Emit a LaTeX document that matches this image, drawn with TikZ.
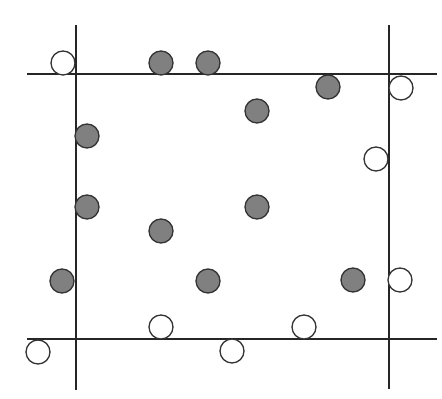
\documentclass[tikz,border=0pt]{standalone}
\tikzset{pt/.style={circle,draw=black!80,line width=1.1pt,minimum size=.72cm,inner sep=0pt},
	full/.style={pt,fill=black!50},
	empty/.style={pt,fill=white}}
\usepackage{tikz}

\begin{document}
\begin{tikzpicture}[x=.03cm,y=-.03cm]
		\useasboundingbox (0,0) rectangle (442,399);
		
		\coordinate (tl) at (27,74);
		\coordinate (tr) at (437,74);
		\coordinate (bl) at (27,339);
		\coordinate (br) at (437,339);
		\coordinate (lt) at (76,25);
		\coordinate (lb) at (76,390);
		\coordinate (rt) at (389,25);
		\coordinate (rb) at (389,389);
		\draw[black!85,line width=1.1pt]
		(tl)--(tr)
		(bl)--(br)
		(lt)--(lb)
		(rt)--(rb);
		
		\path
		(161,63)  node[full](f1){}
		(208,63)  node[full](f2){}
		(328,87)  node[full](f3){}
		(257,111) node[full](f4){}
		(87,136)  node[full](f5){}
		(87,207)  node[full](f6){}
		(257,207) node[full](f7){}
		(161,231) node[full](f8){}
		(62,281)  node[full](f9){}
		(208,281) node[full](f10){}
		(353,280) node[full](f11){};
		
		\path
		(63,63)   node[empty](e1){}
		(401,88)  node[empty](e2){}
		(376,159) node[empty](e3){}
		(400,280) node[empty](e4){}
		(161,327) node[empty](e5){}
		(304,327) node[empty](e6){}
		(38,352)  node[empty](e7){}
		(232,351) node[empty](e8){};
	\end{tikzpicture}
\end{document}
